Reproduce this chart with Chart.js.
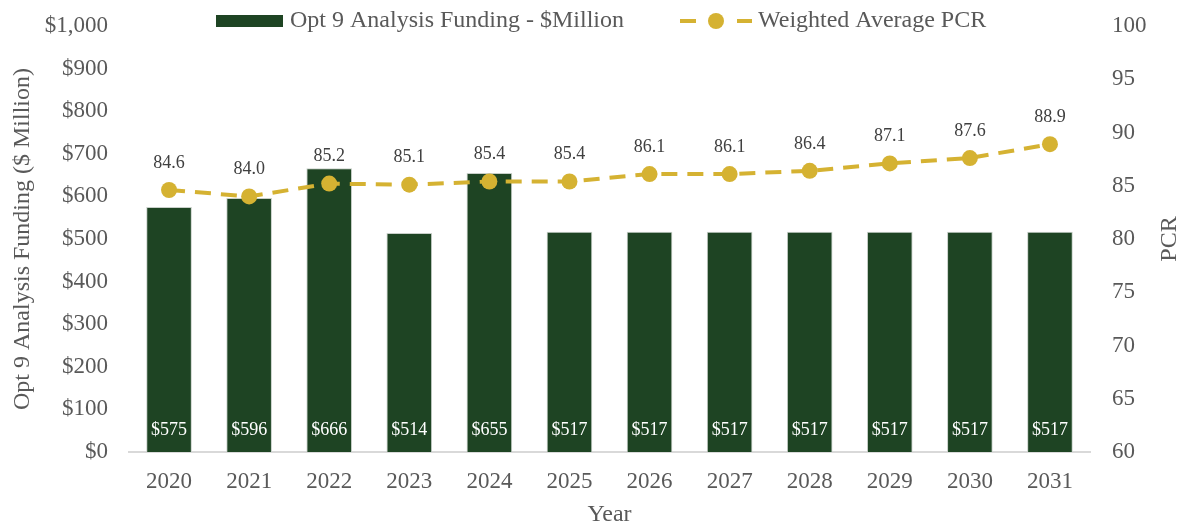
<!DOCTYPE html>
<html>
<head>
<meta charset="utf-8">
<script src="https://cdn.jsdelivr.net/npm/chart.js@4"></script>
<style>
  html, body { margin: 0; padding: 0; background: #fff; }
  #wrap { width: 1187px; height: 529px; }
</style>
</head>
<body>
<div id="wrap"><canvas id="chart"></canvas></div>
<script>
// chart data
const years = ["2020", "2021", "2022", "2023", "2024", "2025", "2026", "2027", "2028", "2029", "2030", "2031"];
const funding = [575, 596, 666, 514, 655, 517, 517, 517, 517, 517, 517, 517];
const pcr = [84.6, 84.0, 85.2, 85.1, 85.4, 85.4, 86.1, 86.1, 86.4, 87.1, 87.6, 88.9];

const green = "#1e4423";
const gold = "#d5b232";
const grey = "#595959";
const fontFam = "'Liberation Serif', 'Times New Roman', serif";

// labels on bars and points, right axis title, legend
const extras = {
    id: "extras",
    afterDatasetsDraw(chart) {
        const ctx = chart.ctx;
        ctx.save();
        ctx.textAlign = "center";
        ctx.textBaseline = "middle";
        ctx.font = "18px " + fontFam;

        // bar values near the bottom
        const barMeta = chart.getDatasetMeta(1);
        ctx.fillStyle = "#ffffff";
        barMeta.data.forEach((bar, i) => {
            ctx.fillText("$" + funding[i], bar.x, chart.scales.y.bottom - 22);
        });

        // PCR values above points
        const lineMeta = chart.getDatasetMeta(0);
        ctx.fillStyle = "#404040";
        lineMeta.data.forEach((pt, i) => {
            ctx.fillText(pcr[i].toFixed(1), pt.x, pt.y - 27);
        });
        ctx.restore();
    },
    afterDraw(chart) {
        const ctx = chart.ctx;
        ctx.save();

        // right axis title, reading upward
        ctx.font = "24px " + fontFam;
        ctx.fillStyle = grey;
        ctx.textAlign = "center";
        ctx.textBaseline = "middle";
        ctx.translate(1170, (chart.scales.y1.top + chart.scales.y1.bottom) / 2);
        ctx.rotate(-Math.PI / 2);
        ctx.fillText("PCR", 0, 0);
        ctx.restore();

        // legend
        ctx.save();
        ctx.font = "24px " + fontFam;
        ctx.textBaseline = "middle";
        ctx.textAlign = "left";
        const ly = 21;
        ctx.fillStyle = green;
        ctx.fillRect(216, 15, 67, 12);
        ctx.fillStyle = grey;
        ctx.fillText(chart.data.datasets[1].label, 290, ly);

        ctx.strokeStyle = gold;
        ctx.lineWidth = 4;
        ctx.beginPath();
        ctx.moveTo(680, ly); ctx.lineTo(696, ly);
        ctx.moveTo(737, ly); ctx.lineTo(752, ly);
        ctx.stroke();
        ctx.fillStyle = gold;
        ctx.beginPath();
        ctx.arc(716, ly, 8, 0, Math.PI * 2);
        ctx.fill();
        ctx.fillStyle = grey;
        ctx.fillText(chart.data.datasets[0].label, 758, ly);
        ctx.restore();
    }
};

new Chart(document.getElementById("chart"), {
    type: "bar",
    data: {
        labels: years,
        datasets: [
            {
                type: "line",
                label: "Weighted Average PCR",
                data: pcr,
                yAxisID: "y1",
                borderColor: gold,
                backgroundColor: gold,
                borderWidth: 4,
                borderDash: [16, 10],
                pointRadius: 8,
                pointHoverRadius: 8,
                pointBackgroundColor: gold,
                pointBorderWidth: 0,
                tension: 0,
                order: 0,
            },
            {
                type: "bar",
                label: "Opt 9 Analysis Funding - $Million",
                data: funding,
                yAxisID: "y",
                backgroundColor: green,
                borderColor: "#c8cfc9",
                borderWidth: 1,
                barPercentage: 0.57,
                categoryPercentage: 1,
                order: 1,
            },
        ],
    },
    options: {
        responsive: true,
        maintainAspectRatio: false,
        animation: false,
        layout: { padding: { top: 26, left: 0, right: 0, bottom: 0 } },
        plugins: {
            legend: { display: false },
            tooltip: { enabled: false },
        },
        scales: {
            x: {
                grid: { display: false, drawTicks: false },
                border: { display: true, color: "#d9d9d9", width: 2 },
                ticks: { color: grey, font: { family: fontFam, size: 23 }, padding: 16 },
                title: {
                    display: true,
                    text: "Year",
                    color: grey,
                    font: { family: fontFam, size: 24 },
                    padding: { top: 0, bottom: 0 },
                },
                afterFit(scale) { scale.height = 77; },
            },
            y: {
                position: "left",
                min: 0,
                max: 1000,
                grid: { display: false, drawTicks: true, tickLength: 19 },
                border: { display: false },
                ticks: {
                    stepSize: 100,
                    color: grey,
                    font: { family: fontFam, size: 23 },
                    padding: 2,
                    callback: (v) => "$" + v.toLocaleString("en-US"),
                },
                title: {
                    display: true,
                    text: "Opt 9 Analysis Funding ($ Million)",
                    color: grey,
                    font: { family: fontFam, size: 24 },
                    padding: { top: 8, bottom: 0 },
                },
                afterFit(scale) { scale.width = 129; },
            },
            y1: {
                position: "right",
                min: 60,
                max: 100,
                grid: { display: false, drawTicks: true, tickLength: 20 },
                border: { display: false },
                ticks: {
                    stepSize: 5,
                    color: grey,
                    font: { family: fontFam, size: 23 },
                    padding: 2,
                },
                afterFit(scale) { scale.width = 97; },
            },
        },
    },
    plugins: [extras],
});
</script>
</body>
</html>
